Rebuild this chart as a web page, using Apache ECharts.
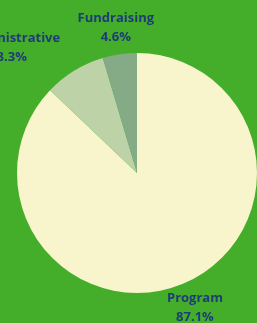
<!DOCTYPE html>
<html><head><meta charset="utf-8">
<script src="https://cdn.jsdelivr.net/npm/echarts@6/dist/echarts.min.js"></script>
<style>html,body{margin:0;padding:0;background:#44ae2a;}#c{width:257px;height:323px;}</style>
</head><body><div id="c"></div>
<script>
var categories = ['Program', 'Administrative', 'Fundraising'];
var values = [87.1, 8.3, 4.6];
var colors = ['#f8f5cc', '#bdd3a7', '#85ab86'];
var aligns = ['center', 'right', 'center'];

var chart = echarts.init(document.getElementById('c'), null, {renderer: 'canvas'});
chart.setOption({
  backgroundColor: '#44ae2a',
  animation: false,
  series: [{
    type: 'pie',
    center: [137, 173],
    radius: [0, 120],
    startAngle: 90,
    clockwise: true,
    avoidLabelOverlap: false,
    data: categories.map(function (c, i) { return {name: c, value: values[i], itemStyle: {color: colors[i]}}; }),
    label: {
      show: true,
      position: 'outside',
      formatter: function (p) { return p.name + '\n' + p.value.toFixed(1) + '%'; },
      fontFamily: 'Open Sans',
      fontWeight: 'bold',
      fontSize: 13,
      lineHeight: 19,
      color: '#1e3c78'
    },
    labelLine: { show: true, length: 27, length2: 0, lineStyle: {opacity: 0} },
    labelLayout: function (p) {
      var pts = p.labelLinePoints;
      if (!pts) return {};
      var e = pts[pts.length - 1];
      var x = e[0];
      if (aligns[p.dataIndex] === 'right') x = e[0] - p.labelRect.width / 2;
      return { x: x, y: e[1], align: 'center', verticalAlign: 'middle' };
    }
  }]
});
</script></body></html>
